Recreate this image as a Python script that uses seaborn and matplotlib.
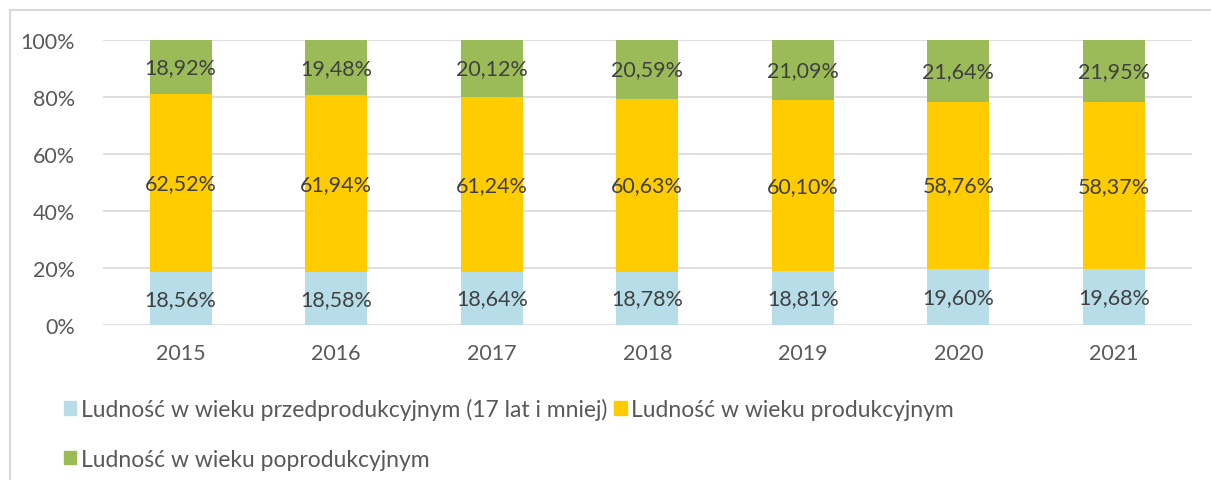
import matplotlib
matplotlib.use("Agg")
import matplotlib.pyplot as plt
import matplotlib.patches as mpatches
import seaborn as sns
import numpy as np

years = ["2015", "2016", "2017", "2018", "2019", "2020", "2021"]
pre = [18.56, 18.58, 18.64, 18.78, 18.81, 19.60, 19.68]
prod = [62.52, 61.94, 61.24, 60.63, 60.10, 58.76, 58.37]
post = [18.92, 19.48, 20.12, 20.59, 21.09, 21.64, 21.95]

labels = [
    "Ludność w wieku przedprodukcyjnym (17 lat i mniej)",
    "Ludność w wieku produkcyjnym",
    "Ludność w wieku poprodukcyjnym",
]
colors = ["#B7DEE8", "#FFCC00", "#9BBB59"]

sns.set_theme(style="white")
plt.rcParams["font.family"] = ["Lato", "DejaVu Sans"]

fig = plt.figure(figsize=(12.11, 4.81), dpi=100)
ax = fig.add_axes([0.085, 0.322, 0.899, 0.593])

series = [np.array(pre), np.array(prod), np.array(post)]
bottoms = np.cumsum([np.zeros(len(years))] + series[:-1], axis=0)
tops = bottoms + np.array(series)

# draw cumulative tops from the largest down so the stacks overlap correctly
for i in reversed(range(3)):
    sns.barplot(x=years, y=tops[i], color=colors[i], saturation=1, width=0.4,
                ax=ax, zorder=2, linewidth=0)

for i in range(3):
    for j, v in enumerate(series[i]):
        ax.text(j, bottoms[i][j] + v / 2, f"{v:.2f}%".replace(".", ","),
                ha="center", va="center", fontsize=15.5, color="#404040", zorder=3)

ax.set_ylim(0, 100)
ax.set_xlim(-0.5, len(years) - 0.5)
ax.set_yticks(range(0, 101, 20))
ax.set_yticklabels([f"{t}%" for t in range(0, 101, 20)])
ax.yaxis.grid(True, color="#D9D9D9", linewidth=1.2, zorder=0)
ax.set_axisbelow(True)
for s in ax.spines.values():
    s.set_visible(False)
ax.tick_params(axis="both", labelsize=15.5, colors="#595959", length=0)
ax.tick_params(axis="x", pad=13)
ax.tick_params(axis="y", pad=20)
ax.set_xlabel("")
ax.set_ylabel("")

handles = [mpatches.Patch(color=c) for c in colors]
order = [0, 2, 1]
fig.legend([handles[k] for k in order], [labels[k] for k in order],
           ncol=2, loc="upper left", bbox_to_anchor=(0.045, 0.19),
           frameon=False, fontsize=16.5, labelcolor="#595959",
           handlelength=0.55, handleheight=0.55, handletextpad=0.2,
           columnspacing=0.3, labelspacing=1.25, borderaxespad=0)

border = mpatches.Rectangle((10 / 1211, -0.1), 1.2, 1 - 11 / 481 + 0.1,
                            transform=fig.transFigure, fill=False,
                            edgecolor="#D9D9D9", linewidth=1.5)
fig.patches.append(border)

fig.savefig("out.png", dpi=100)
